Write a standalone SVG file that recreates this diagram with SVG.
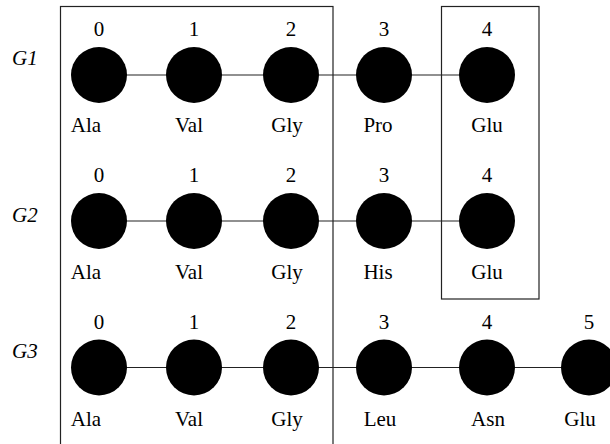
<svg xmlns="http://www.w3.org/2000/svg" width="610" height="444" viewBox="0 0 610 444">
<style>
.t{font-family:"Liberation Serif","Times New Roman",serif;font-size:21px;fill:#000;text-anchor:middle}
.g{font-family:"Liberation Serif","Times New Roman",serif;font-size:21px;font-style:italic;fill:#000}
.n{fill:#000}
.e{stroke:#222;stroke-width:1.2;fill:none}
.box{fill:none;stroke:#222;stroke-width:1.2}
</style>
<rect fill="#fff" width="610" height="444"/>
<g id="boxes">
<rect class="box" x="60.5" y="6.5" width="272.5" height="450"/>
<rect class="box" x="441.5" y="6.5" width="97.5" height="292.5"/>
</g>
<g id="connectors">
<line class="e" x1="99" y1="75" x2="487" y2="75"/>
<line class="e" x1="99" y1="221" x2="487" y2="221"/>
<line class="e" x1="99" y1="367.5" x2="589" y2="367.5"/>
</g>
<g id="labels">
<text class="g" x="12" y="65">G1</text>
<text class="g" x="12" y="222">G2</text>
<text class="g" x="12" y="358">G3</text>
</g>
<g id="g1">
<g id="g1n0"><circle class="n" cx="99" cy="75" r="28"/><text class="t" x="99" y="36">0</text><text class="t" x="86" y="132">Ala</text></g>
<g id="g1n1"><circle class="n" cx="194" cy="75" r="28"/><text class="t" x="194" y="36">1</text><text class="t" x="189" y="132">Val</text></g>
<g id="g1n2"><circle class="n" cx="291" cy="75" r="28"/><text class="t" x="291" y="36">2</text><text class="t" x="287" y="132">Gly</text></g>
<g id="g1n3"><circle class="n" cx="384" cy="75" r="28"/><text class="t" x="384" y="36">3</text><text class="t" x="378" y="132">Pro</text></g>
<g id="g1n4"><circle class="n" cx="487" cy="75" r="28"/><text class="t" x="487" y="36">4</text><text class="t" x="487" y="132">Glu</text></g>
</g>
<g id="g2">
<g id="g2n0"><circle class="n" cx="99" cy="221" r="28"/><text class="t" x="99" y="182">0</text><text class="t" x="86" y="279">Ala</text></g>
<g id="g2n1"><circle class="n" cx="194" cy="221" r="28"/><text class="t" x="194" y="182">1</text><text class="t" x="189" y="279">Val</text></g>
<g id="g2n2"><circle class="n" cx="291" cy="221" r="28"/><text class="t" x="291" y="182">2</text><text class="t" x="287" y="279">Gly</text></g>
<g id="g2n3"><circle class="n" cx="384" cy="221" r="28"/><text class="t" x="384" y="182">3</text><text class="t" x="378" y="279">His</text></g>
<g id="g2n4"><circle class="n" cx="487" cy="221" r="28"/><text class="t" x="487" y="182">4</text><text class="t" x="487" y="279">Glu</text></g>
</g>
<g id="g3">
<g id="g3n0"><circle class="n" cx="99" cy="367.5" r="28"/><text class="t" x="99" y="329">0</text><text class="t" x="86" y="426">Ala</text></g>
<g id="g3n1"><circle class="n" cx="194" cy="367.5" r="28"/><text class="t" x="194" y="329">1</text><text class="t" x="189" y="426">Val</text></g>
<g id="g3n2"><circle class="n" cx="291" cy="367.5" r="28"/><text class="t" x="291" y="329">2</text><text class="t" x="287" y="426">Gly</text></g>
<g id="g3n3"><circle class="n" cx="384" cy="367.5" r="28"/><text class="t" x="384" y="329">3</text><text class="t" x="380" y="426">Leu</text></g>
<g id="g3n4"><circle class="n" cx="487" cy="367.5" r="28"/><text class="t" x="487" y="329">4</text><text class="t" x="488" y="426">Asn</text></g>
<g id="g3n5"><circle class="n" cx="589" cy="367.5" r="28"/><text class="t" x="589" y="329">5</text><text class="t" x="580" y="426">Glu</text></g>
</g>
</svg>
